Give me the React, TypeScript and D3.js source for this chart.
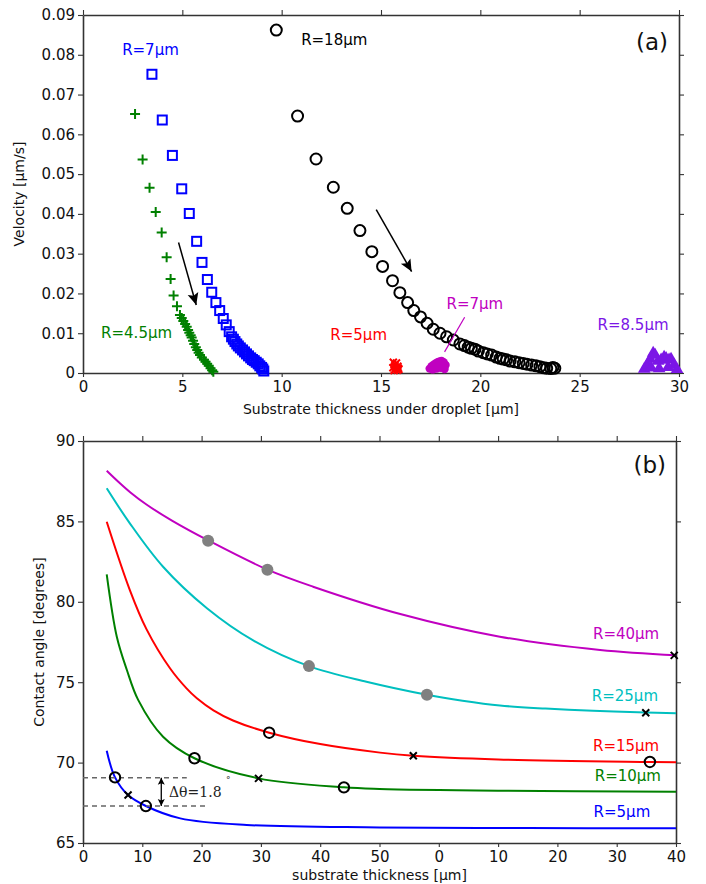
import { useEffect, useRef } from 'react';
import * as d3 from 'd3';

const W = 706;
const H = 884;
const FONT = '"DejaVu Sans", sans-serif';

// panel (a) frame
const aBox = { left: 83, right: 679, top: 15, bottom: 373 };
// panel (b) frame
const bBox = { left: 83, right: 676, top: 441, bottom: 843 };

const velXTicks = [0, 5, 10, 15, 20, 25, 30];
const velYTicks = [0, 0.01, 0.02, 0.03, 0.04, 0.05, 0.06, 0.07, 0.08, 0.09];
const angleXTicks = [0, 10, 20, 30, 40, 50, 60, 70, 80, 90, 100];
const angleXTickLabels = ['0', '10', '20', '30', '40', '50', '0', '10', '20', '30', '40'];
const angleYTicks = [65, 70, 75, 80, 85, 90];

// (a) R=4.5um, green plus
const r45X = [2.62, 3.0, 3.35, 3.66, 3.96, 4.21, 4.41, 4.56, 4.73, 4.88, 4.97, 5.05, 5.14, 5.22, 5.29, 5.35, 5.42, 5.47, 5.54, 5.6, 5.68, 5.75, 5.82, 5.89, 5.98, 6.09, 6.17, 6.25, 6.33, 6.42, 6.5, 6.56];
const r45V = [0.0651, 0.0537, 0.0466, 0.0405, 0.0353, 0.0291, 0.0236, 0.0195, 0.0168, 0.0146, 0.0138, 0.0131, 0.0123, 0.0116, 0.0108, 0.0101, 0.0095, 0.0089, 0.0081, 0.0073, 0.0065, 0.0058, 0.0051, 0.0045, 0.0039, 0.0033, 0.0028, 0.0023, 0.0018, 0.0012, 0.0007, 0.0003];
// (a) R=7um, blue squares
const r7X = [3.47, 3.99, 4.5, 4.97, 5.35, 5.72, 5.99, 6.26, 6.48, 6.69, 6.88, 7.06, 7.21, 7.36, 7.48, 7.57, 7.65, 7.74, 7.82, 7.92, 8.03, 8.13, 8.23, 8.33, 8.44, 8.53, 8.62, 8.72, 8.82, 8.9, 8.99, 9.05, 9.1];
const r7V = [0.0751, 0.0636, 0.0547, 0.0463, 0.0401, 0.0331, 0.0278, 0.0235, 0.0203, 0.0177, 0.0157, 0.0137, 0.0121, 0.0104, 0.0091, 0.0085, 0.0079, 0.0073, 0.0068, 0.0063, 0.0058, 0.0053, 0.0048, 0.0043, 0.0038, 0.0034, 0.0031, 0.0027, 0.0023, 0.0018, 0.0014, 0.001, 0.0005];
// (a) R=18um, black circles
const r18X = [9.73, 10.8, 11.73, 12.6, 13.3, 13.94, 14.54, 15.08, 15.58, 15.95, 16.34, 16.65, 16.99, 17.32, 17.63, 17.97, 18.3, 18.64, 18.97, 19.2, 19.39, 19.55, 19.73, 19.9, 20.15, 20.35, 20.57, 20.8, 20.99, 21.15, 21.32, 21.5, 21.74, 21.95, 22.16, 22.35, 22.58, 22.8, 23.0, 23.2, 23.34, 23.55, 23.65, 23.75];
const r18V = [0.0862, 0.0646, 0.0538, 0.0467, 0.0414, 0.0358, 0.0305, 0.0268, 0.0232, 0.0202, 0.0177, 0.0157, 0.0141, 0.0125, 0.011, 0.01, 0.0091, 0.0083, 0.0073, 0.0069, 0.0065, 0.0062, 0.006, 0.0055, 0.0051, 0.0048, 0.0045, 0.004, 0.0037, 0.0035, 0.0033, 0.003, 0.0028, 0.0026, 0.0024, 0.0022, 0.002, 0.0018, 0.0016, 0.0013, 0.0012, 0.0011, 0.0014, 0.0012];
// (a) R=5um, red crosses
const r5X = [15.62, 15.78, 15.7, 15.85, 15.6, 15.75, 15.9, 15.68, 15.82, 15.72, 15.66, 15.88];
const r5V = [0.0022, 0.002, 0.0015, 0.0012, 0.0008, 0.0006, 0.0004, 0.0003, 0.0002, 0.001, 0.0001, 0.0007];
// (a) R=7um, magenta dots
const r7bX = [17.45, 17.55, 17.65, 17.75, 17.85, 17.95, 18.05, 18.15, 18.25, 17.6, 17.8, 18.0, 18.2, 17.7, 17.9, 18.1];
const r7bV = [0.0006, 0.0012, 0.0016, 0.0019, 0.0022, 0.0024, 0.0025, 0.0022, 0.0015, 0.0004, 0.0006, 0.0008, 0.0005, 0.0009, 0.0013, 0.0011];
// (a) R=8.5um, purple triangles
const r85X = [28.25, 28.4, 28.55, 28.7, 28.8, 28.95, 29.1, 29.25, 29.35, 29.5, 29.6, 29.75, 29.9, 28.6, 29.0, 29.45];
const r85V = [0.0005, 0.0015, 0.003, 0.0045, 0.004, 0.0025, 0.0028, 0.0035, 0.0032, 0.0028, 0.003, 0.0015, 0.0004, 0.0008, 0.0006, 0.0009];

// (b) contact angle curves
const c5X = [4, 5.4, 7.6, 10.6, 16.4, 27.6, 50, 75, 100];
const c5Y = [70.74, 69.08, 67.98, 67.3, 66.53, 66.12, 65.97, 65.93, 65.91];
const c10X = [4, 5.7, 7.4, 9.3, 13.5, 18.8, 29.6, 44, 50, 70, 100];
const c10Y = [81.71, 77.83, 75.76, 73.9, 71.61, 70.27, 69.02, 68.46, 68.36, 68.25, 68.19];
const c15X = [4, 7.9, 10.7, 14.7, 17.5, 19.2, 22, 25.3, 31.4, 40, 50.1, 55.7, 70, 95.6, 100];
const c15Y = [84.98, 80.73, 78.3, 75.85, 74.6, 74.0, 73.25, 72.62, 71.86, 71.15, 70.62, 70.43, 70.2, 70.04, 70.02];
const c25X = [4, 7.9, 13.5, 20.9, 28.7, 38.1, 47.8, 58, 64, 70.3, 78, 86, 94.9, 100];
const c25Y = [87.06, 84.88, 82.18, 79.6, 77.6, 76.0, 75.03, 74.22, 73.85, 73.55, 73.36, 73.22, 73.12, 73.07];
const c40X = [4, 6, 8, 10.7, 15, 21.2, 31.1, 38.8, 53.5, 70.3, 87.2, 100];
const c40Y = [88.15, 87.45, 86.8, 86.05, 85.05, 83.8, 82.0, 80.94, 79.24, 77.83, 77.0, 76.67];

const greyDotX = [21.1, 31.1, 38.1, 58];
const greyDotY = [83.8, 82.0, 76.0, 74.22];
const openCircX = [5.4, 10.6, 18.8, 44, 31.4, 95.6];
const openCircY = [69.08, 67.3, 70.27, 68.46, 71.86, 70.04];
const crossX = [7.6, 29.6, 55.7, 94.9, 99.7];
const crossY = [67.98, 69.02, 70.43, 73.1, 76.67];

const zip = (xs: number[], ys: number[]) => xs.slice(0, Math.min(xs.length, ys.length)).map((x, i) => [x, ys[i]] as [number, number]);

export default function App() {
    const ref = useRef<SVGSVGElement | null>(null);

    useEffect(() => {
        const svg = d3.select(ref.current);
        svg.selectAll('*').remove();

        const defs = svg.append('defs');
        defs.append('marker')
            .attr('id', 'barb')
            .attr('viewBox', '-2 -6 16 12')
            .attr('refX', 12)
            .attr('refY', 0)
            .attr('markerWidth', 16)
            .attr('markerHeight', 12)
            .attr('markerUnits', 'userSpaceOnUse')
            .attr('orient', 'auto')
            .append('path')
            .attr('d', 'M0,-5.5L12,0L0,5.5L2.5,0Z')
            .attr('fill', '#000');
        defs.append('marker')
            .attr('id', 'small')
            .attr('viewBox', '-1 -4 10 8')
            .attr('refX', 7)
            .attr('refY', 0)
            .attr('markerWidth', 10)
            .attr('markerHeight', 8)
            .attr('markerUnits', 'userSpaceOnUse')
            .attr('orient', 'auto-start-reverse')
            .append('path')
            .attr('d', 'M0,-3.5L7,0L0,3.5L1.5,0Z')
            .attr('fill', '#000');

        // ---------- panel (a) ----------
        const xa = d3.scaleLinear().domain([0, 30]).range([aBox.left, aBox.right]);
        const ya = d3.scaleLinear().domain([0, 0.09]).range([aBox.bottom, aBox.top]);
        const ga = svg.append('g');

        const fmtV = (d: number) => (d === 0 ? '0' : d3.format('.2f')(d));
        const styleAxis = (g: any, size = 15) => {
            g.selectAll('.domain').attr('stroke', '#333').attr('stroke-width', 1.6);
            g.selectAll('.tick line').attr('stroke', '#333').attr('stroke-width', 1.1);
            g.selectAll('.tick text').attr('font-family', FONT).attr('font-size', size).attr('fill', '#111');
        };

        ga.append('g').attr('transform', `translate(0,${aBox.bottom})`)
            .call(d3.axisBottom(xa).tickValues(velXTicks).tickSize(4).tickSizeOuter(0).tickPadding(4).tickFormat(d3.format('d') as any))
            .call(styleAxis);
        ga.append('g').attr('transform', `translate(0,${aBox.top})`)
            .call(d3.axisTop(xa).tickValues(velXTicks).tickSize(5).tickSizeOuter(0).tickFormat(() => ''))
            .call(styleAxis);
        ga.append('g').attr('transform', `translate(${aBox.left},0)`)
            .call(d3.axisLeft(ya).tickValues(velYTicks).tickSize(5).tickSizeOuter(0).tickPadding(3).tickFormat(fmtV as any))
            .call(styleAxis);
        ga.append('g').attr('transform', `translate(${aBox.right},0)`)
            .call(d3.axisRight(ya).tickValues(velYTicks).tickSize(5).tickSizeOuter(0).tickFormat(() => ''))
            .call(styleAxis);

        // clusters and series
        ga.append('g').selectAll('path').data(zip(r85X, r85V)).join('path')
            .attr('d', d3.symbol().type(d3.symbolTriangle).size(70) as any)
            .attr('transform', (d) => `translate(${xa(d[0])},${ya(d[1]) - 2})`)
            .attr('fill', '#7b16e6');
        ga.append('g').selectAll('circle').data(zip(r7bX, r7bV)).join('circle')
            .attr('cx', (d) => xa(d[0])).attr('cy', (d) => ya(d[1]) - 2).attr('r', 4.2)
            .attr('fill', '#c000c0');
        ga.append('g').selectAll('path').data(zip(r5X, r5V)).join('path')
            .attr('d', 'M-3.5,-3.5L3.5,3.5M-3.5,3.5L3.5,-3.5')
            .attr('transform', (d) => `translate(${xa(d[0])},${ya(d[1]) - 2})`)
            .attr('stroke', '#ff0000').attr('stroke-width', 2).attr('fill', 'none');
        ga.append('g').selectAll('path').data(zip(r45X, r45V)).join('path')
            .attr('d', 'M-5,0L5,0M0,-5L0,5')
            .attr('transform', (d) => `translate(${xa(d[0])},${ya(d[1])})`)
            .attr('stroke', '#008000').attr('stroke-width', 2).attr('fill', 'none');
        ga.append('g').selectAll('rect').data(zip(r7X, r7V)).join('rect')
            .attr('x', (d) => xa(d[0]) - 4.5).attr('y', (d) => ya(d[1]) - 4.5)
            .attr('width', 9).attr('height', 9)
            .attr('stroke', '#0000ff').attr('stroke-width', 2).attr('fill', 'none');
        ga.append('g').selectAll('circle').data(zip(r18X, r18V)).join('circle')
            .attr('cx', (d) => xa(d[0])).attr('cy', (d) => ya(d[1])).attr('r', 5.5)
            .attr('stroke', '#000').attr('stroke-width', 2).attr('fill', 'none');

        // arrows
        ga.append('line')
            .attr('x1', xa(4.81)).attr('y1', ya(0.0328)).attr('x2', xa(5.7)).attr('y2', ya(0.0171))
            .attr('stroke', '#000').attr('stroke-width', 1.5).attr('marker-end', 'url(#barb)');
        ga.append('line')
            .attr('x1', xa(14.76)).attr('y1', ya(0.0411)).attr('x2', xa(16.54)).attr('y2', ya(0.0255))
            .attr('stroke', '#000').attr('stroke-width', 1.5).attr('marker-end', 'url(#barb)');
        ga.append('line')
            .attr('x1', xa(19.21)).attr('y1', ya(0.014)).attr('x2', xa(18.2)).attr('y2', ya(0.0053))
            .attr('stroke', '#c000c0').attr('stroke-width', 1.2);

        const labelsA: [string, number, number, string][] = [
            ['R=7μm', 1.97, 0.08, '#0000ff'],
            ['R=18μm', 10.98, 0.0825, '#000'],
            ['R=4.5μm', 0.91, 0.0089, '#008000'],
            ['R=5μm', 12.45, 0.0084, '#ff0000'],
            ['R=7μm', 18.3, 0.0162, '#c000c0'],
            ['R=8.5μm', 25.9, 0.0107, '#7b16e6'],
        ];
        ga.append('g').selectAll('text').data(labelsA).join('text')
            .attr('x', (d) => xa(d[1])).attr('y', (d) => ya(d[2]))
            .attr('fill', (d) => d[3]).attr('font-family', FONT).attr('font-size', 15)
            .text((d) => d[0]);
        ga.append('text').attr('x', 668).attr('y', 50).attr('text-anchor', 'end')
            .attr('font-family', FONT).attr('font-size', 23).attr('fill', '#111').text('(a)');
        ga.append('text').attr('x', (aBox.left + aBox.right) / 2).attr('y', 414).attr('text-anchor', 'middle')
            .attr('font-family', FONT).attr('font-size', 14).attr('fill', '#111').text('Substrate thickness under droplet [μm]');
        ga.append('text').attr('transform', `translate(24,${(aBox.top + aBox.bottom) / 2}) rotate(-90)`).attr('text-anchor', 'middle')
            .attr('font-family', FONT).attr('font-size', 14).attr('fill', '#111').text('Velocity [μm/s]');

        // ---------- panel (b) ----------
        const xb = d3.scaleLinear().domain([0, 100]).range([bBox.left, bBox.right]);
        const yb = d3.scaleLinear().domain([65, 90]).range([bBox.bottom, bBox.top]);
        const gb = svg.append('g');

        gb.append('g').attr('transform', `translate(0,${bBox.bottom})`)
            .call(d3.axisBottom(xb).tickValues(angleXTicks).tickSize(4).tickSizeOuter(0).tickPadding(4)
                .tickFormat(((d: number) => angleXTickLabels[angleXTicks.indexOf(d)]) as any))
            .call(styleAxis);
        gb.append('g').attr('transform', `translate(0,${bBox.top})`)
            .call(d3.axisTop(xb).tickValues(angleXTicks).tickSize(5).tickSizeOuter(0).tickFormat(() => ''))
            .call(styleAxis);
        gb.append('g').attr('transform', `translate(${bBox.left},0)`)
            .call(d3.axisLeft(yb).tickValues(angleYTicks).tickSize(5).tickSizeOuter(0).tickPadding(3).tickFormat(d3.format('d') as any))
            .call(styleAxis);
        gb.append('g').attr('transform', `translate(${bBox.right},0)`)
            .call(d3.axisRight(yb).tickValues(angleYTicks).tickSize(5).tickSizeOuter(0).tickFormat(() => ''))
            .call(styleAxis);

        const line = d3.line<[number, number]>().x((d) => xb(d[0])).y((d) => yb(d[1])).curve(d3.curveCatmullRom.alpha(0.5));
        const curves: [number[], number[], string][] = [
            [c40X, c40Y, '#c000c0'],
            [c25X, c25Y, '#00bfbf'],
            [c15X, c15Y, '#ff0000'],
            [c10X, c10Y, '#008000'],
            [c5X, c5Y, '#0000ff'],
        ];
        gb.append('g').selectAll('path').data(curves).join('path')
            .attr('d', (d) => line(zip(d[0], d[1])))
            .attr('stroke', (d) => d[2]).attr('stroke-width', 2).attr('fill', 'none');

        // dashed guides + double arrow
        gb.append('line').attr('x1', xb(0)).attr('x2', xb(17.5)).attr('y1', yb(69.06)).attr('y2', yb(69.06))
            .attr('stroke', '#666').attr('stroke-width', 1.4).attr('stroke-dasharray', '5,4');
        gb.append('line').attr('x1', xb(0)).attr('x2', xb(21.1)).attr('y1', yb(67.3)).attr('y2', yb(67.3))
            .attr('stroke', '#666').attr('stroke-width', 1.4).attr('stroke-dasharray', '5,4');
        gb.append('line').attr('x1', xb(13.2)).attr('x2', xb(13.2)).attr('y1', yb(69.06)).attr('y2', yb(67.3))
            .attr('stroke', '#000').attr('stroke-width', 1.3)
            .attr('marker-start', 'url(#small)').attr('marker-end', 'url(#small)');
        gb.append('text').attr('x', 169).attr('y', 797)
            .attr('font-family', '"DejaVu Serif", serif').attr('font-size', 14).attr('fill', '#222').text('Δθ=1.8');
        gb.append('text').attr('x', 226).attr('y', 783)
            .attr('font-family', FONT).attr('font-size', 9).attr('fill', '#222').text('°');

        gb.append('g').selectAll('circle').data(zip(greyDotX, greyDotY)).join('circle')
            .attr('cx', (d) => xb(d[0])).attr('cy', (d) => yb(d[1])).attr('r', 6).attr('fill', '#808080');
        gb.append('g').selectAll('circle').data(zip(openCircX, openCircY)).join('circle')
            .attr('cx', (d) => xb(d[0])).attr('cy', (d) => yb(d[1])).attr('r', 5.2)
            .attr('stroke', '#000').attr('stroke-width', 2).attr('fill', 'none');
        gb.append('g').selectAll('path').data(zip(crossX, crossY)).join('path')
            .attr('d', 'M-3.5,-3.5L3.5,3.5M-3.5,3.5L3.5,-3.5')
            .attr('transform', (d) => `translate(${xb(d[0])},${yb(d[1])})`)
            .attr('stroke', '#000').attr('stroke-width', 2).attr('fill', 'none');

        const labelsB: [string, number, number, string][] = [
            ['R=40μm', 86.0, 77.69, '#c000c0'],
            ['R=25μm', 85.8, 73.83, '#00bfbf'],
            ['R=15μm', 86.0, 70.72, '#ff0000'],
            ['R=10μm', 86.3, 68.86, '#008000'],
            ['R=5μm', 86.1, 66.62, '#0000ff'],
        ];
        gb.append('g').selectAll('text').data(labelsB).join('text')
            .attr('x', (d) => xb(d[1])).attr('y', (d) => yb(d[2]))
            .attr('fill', (d) => d[3]).attr('font-family', FONT).attr('font-size', 15)
            .text((d) => d[0]);
        gb.append('text').attr('x', 666).attr('y', 473).attr('text-anchor', 'end')
            .attr('font-family', FONT).attr('font-size', 23).attr('fill', '#111').text('(b)');
        gb.append('text').attr('x', (bBox.left + bBox.right) / 2).attr('y', 880).attr('text-anchor', 'middle')
            .attr('font-family', FONT).attr('font-size', 14).attr('fill', '#111').text('substrate thickness [μm]');
        gb.append('text').attr('transform', `translate(44,${(bBox.top + bBox.bottom) / 2}) rotate(-90)`).attr('text-anchor', 'middle')
            .attr('font-family', FONT).attr('font-size', 14).attr('fill', '#111').text('Contact angle [degrees]');
    }, []);

    return (
        <svg
            ref={ref}
            width={W}
            height={H}
            style={{ position: 'absolute', left: 0, top: 0, background: '#fff' }}
        />
    );
}
